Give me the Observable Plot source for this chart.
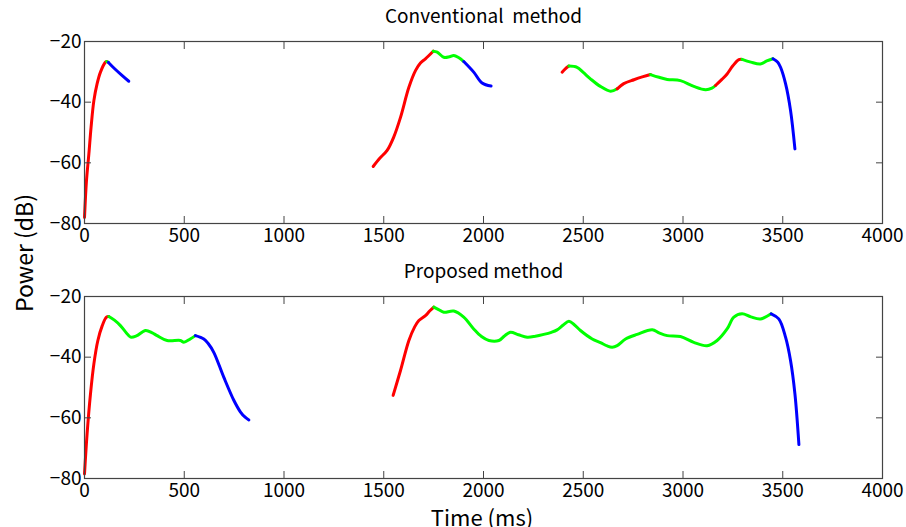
<!DOCTYPE html>
<html>
<head>
<meta charset="utf-8">
<script src="https://cdn.jsdelivr.net/npm/d3@7"></script>
<script src="https://cdn.jsdelivr.net/npm/@observablehq/plot@0.6"></script>
<style>
  html, body { margin: 0; padding: 0; background: #fff; }
  #wrap { position: relative; width: 906px; height: 527px; overflow: hidden; font-family: "Noto Sans CJK JP", "Noto Sans", sans-serif; }
  .panel { position: absolute; left: 0; }
  #ylab { position: absolute; left: 23px; top: 253px; transform: translate(-50%, -50%) rotate(-90deg); font-size: 23px; line-height: 1; white-space: nowrap; color: #000; }
  #xlab { position: absolute; left: 482px; top: 505px; transform: translateX(-50%); font-size: 22px; line-height: 1; white-space: nowrap; color: #000; }
</style>
</head>
<body>
<div id="wrap">
  <div id="top" class="panel" style="top:0"></div>
  <div id="bottom" class="panel" style="top:262px"></div>
  <div id="ylab">Power (dB)</div>
  <div id="xlab">Time (ms)</div>
</div>
<script>
// ---- tick labels / axes ----
const xTicks = [0, 500, 1000, 1500, 2000, 2500, 3000, 3500, 4000];
const yTicks = [-80, -60, -40, -20];
const titles = ["Conventional  method", "Proposed method"];
const partNames = ["rise", "steady", "decay"];
const partColors = ["#ff0000", "#00ff00", "#0000ff"];

// ---- Conventional method ----
const convSeg = [
  1,1,1,1,1,1,1,1,1,1,1,1,1,
  2,2,2,2,2,2,2,2,2,2,2,2,2,2,2,2,2,2,2,
  3,3,3,3,3,3,3,3,3,3,3,3,3,3,3,3,3,3,3,3,3,3,3,3,3,3,3,3,3,3,3,3,3,3
];
const convTime = [
  0,10,22,33,47,63,80,105,111,120,150,185,222,
  1447,1480,1517,1550,1584,1626,1659,1684,1709,1748,1768,1801,1830,1851,1875,1901,1951,1993,2038,
  2394,2410,2428,2469,2500,2536,2586,2637,2670,2703,2754,2800,2837,2880,2921,2987,3054,3113,3145,3163,3195,3221,3250,3280,3296,3340,3388,3420,3451,3475,3489,3514,3539,3561
];
const convPower = [
  -78,-65.8,-57,-48.2,-39.5,-34,-30.1,-26.8,-26.6,-26.9,-28.9,-31,-33.1,
  -61.2,-58.5,-55.9,-51.5,-45,-35.1,-29.6,-27.1,-25.7,-23.2,-23.5,-25.2,-25,-24.6,-25.3,-26.6,-30.1,-33.7,-34.7,
  -30.1,-29,-28.1,-28.5,-30.2,-32.3,-34.8,-36.4,-35.6,-33.9,-32.6,-31.6,-30.9,-31.8,-32.5,-32.9,-34.8,-35.9,-35.4,-34.5,-32.5,-30.7,-28,-26,-25.9,-26.8,-27.4,-26.4,-25.7,-26.8,-28.5,-33.9,-42.7,-55.4
];
const convPart = [
  "rise","rise","rise","rise","rise","rise","rise","rise","steady","decay","decay","decay","decay",
  "rise","rise","rise","rise","rise","rise","rise","rise","rise","steady","steady","steady","steady","steady","steady","decay","decay","decay","decay",
  "rise","rise","steady","steady","steady","steady","steady","steady","rise","rise","rise","rise","steady","steady","steady","steady","steady","steady","steady","rise","rise","rise","rise","rise","steady","steady","steady","steady","decay","decay","decay","decay","decay","decay"
];

// ---- Proposed method ----
const propSeg = [
  1,1,1,1,1,1,1,1,1,1,1,1,1,1,1,1,1,1,1,1,1,1,1,1,1,1,1,1,1,
  2,2,2,2,2,2,2,2,2,2,2,2,2,2,2,2,2,2,2,2,2,2,2,2,2,2,2,2,2,2,2,2,2,2,2,2,2,2,2,2,2,2,2,2,2,2,2,2,2,2,2,2,2
];
const propTime = [
  0,13,30,47,67,89,110,122,150,180,210,231,260,306,340,364,414,481,498,530,556,598,620,648,698,749,782,805,824,
  1547,1584,1626,1655,1676,1709,1730,1751,1775,1801,1851,1901,1951,1990,2027,2077,2105,2135,2175,2219,2260,2302,2340,2369,2400,2428,2455,2486,2545,2586,2620,2645,2670,2712,2770,2846,2880,2921,2987,3054,3121,3171,3221,3255,3296,3340,3388,3442,3480,3514,3539,3561,3581
];
const propPower = [
  -78.5,-65.3,-52.1,-42.2,-34.5,-29.6,-26.8,-26.6,-27.8,-29.6,-32,-33.4,-33,-31.2,-32,-32.9,-34.5,-34.5,-35.1,-34,-32.9,-34,-35.5,-38.4,-46.6,-54.3,-58.1,-59.8,-60.7,
  -52.6,-44.4,-34.5,-30,-27.9,-26.3,-24.8,-23.5,-24.3,-25.2,-24.8,-26.8,-30.7,-33.2,-34.5,-34.5,-33,-31.8,-32.6,-33.4,-33.1,-32.5,-31.8,-31,-29.4,-28.2,-29.3,-31.2,-34,-35.2,-36.3,-36.7,-36.2,-34,-32.5,-31,-32,-32.9,-33.2,-35.1,-36.2,-34.5,-30.7,-26.8,-25.7,-26.7,-27.4,-25.7,-27.4,-33.4,-41.1,-52.1,-68.8
];
const propPart = [
  "rise","rise","rise","rise","rise","rise","rise","steady","steady","steady","steady","steady","steady","steady","steady","steady","steady","steady","steady","steady","decay","decay","decay","decay","decay","decay","decay","decay","decay",
  "rise","rise","rise","rise","rise","rise","rise","steady","steady","steady","steady","steady","steady","steady","steady","steady","steady","steady","steady","steady","steady","steady","steady","steady","steady","steady","steady","steady","steady","steady","steady","steady","steady","steady","steady","steady","steady","steady","steady","steady","steady","steady","steady","steady","steady","steady","steady","decay","decay","decay","decay","decay","decay"
];

function rows(seg, time, power, part) {
  return time.map((t, i) => ({seg: seg[i], t, p: power[i], part: part[i]}));
}

const FONT = '"Noto Sans CJK JP", "Noto Sans", sans-serif';

function panel(data, title, height, marginTop, marginBottom) {
  return Plot.plot({
    width: 906,
    height,
    marginLeft: 84,
    marginRight: 24,
    marginTop,
    marginBottom,
    style: {fontFamily: FONT, fontSize: "18px", color: "#000", background: "#fff", overflow: "visible"},
    x: {domain: [0, 4000], axis: null},
    y: {domain: [-80, -20], axis: null},
    color: {domain: partNames, range: partColors},
    marks: [
      Plot.line(data, {x: "t", y: "p", z: "seg", stroke: "part", strokeWidth: 3, curve: "catmull-rom"}),
      Plot.frame({stroke: "#444", strokeWidth: 1.2}),
      Plot.axisX(xTicks, {anchor: "bottom", label: null, tickSize: -7, stroke: "#444", tickFormat: () => ""}),
      Plot.axisX(xTicks, {anchor: "top", label: null, tickSize: -7, stroke: "#444", tickFormat: () => ""}),
      Plot.axisY(yTicks, {anchor: "left", label: null, tickSize: -7, stroke: "#444", tickFormat: () => ""}),
      Plot.axisY(yTicks, {anchor: "right", label: null, tickSize: -7, stroke: "#444", tickFormat: () => ""}),
      Plot.axisX(xTicks, {anchor: "bottom", label: null, tickSize: 0, tickPadding: 5, fontSize: 19, fill: "#000", tickFormat: d => String(d)}),
      Plot.axisY(yTicks, {anchor: "left", label: null, tickSize: 0, tickPadding: 3, fontSize: 19, fill: "#000", tickFormat: d => String(d).replace("-", "\u2212")}),
      Plot.text([title], {frameAnchor: "top", dy: -19, text: d => d, fontSize: 19, fill: "#000", lineAnchor: "bottom"})
    ]
  });
}

document.getElementById("top").appendChild(panel(rows(convSeg, convTime, convPower, convPart), titles[0], 262, 41, 39));
document.getElementById("bottom").appendChild(panel(rows(propSeg, propTime, propPower, propPart), titles[1], 265, 34, 49));
</script>
</body>
</html>
